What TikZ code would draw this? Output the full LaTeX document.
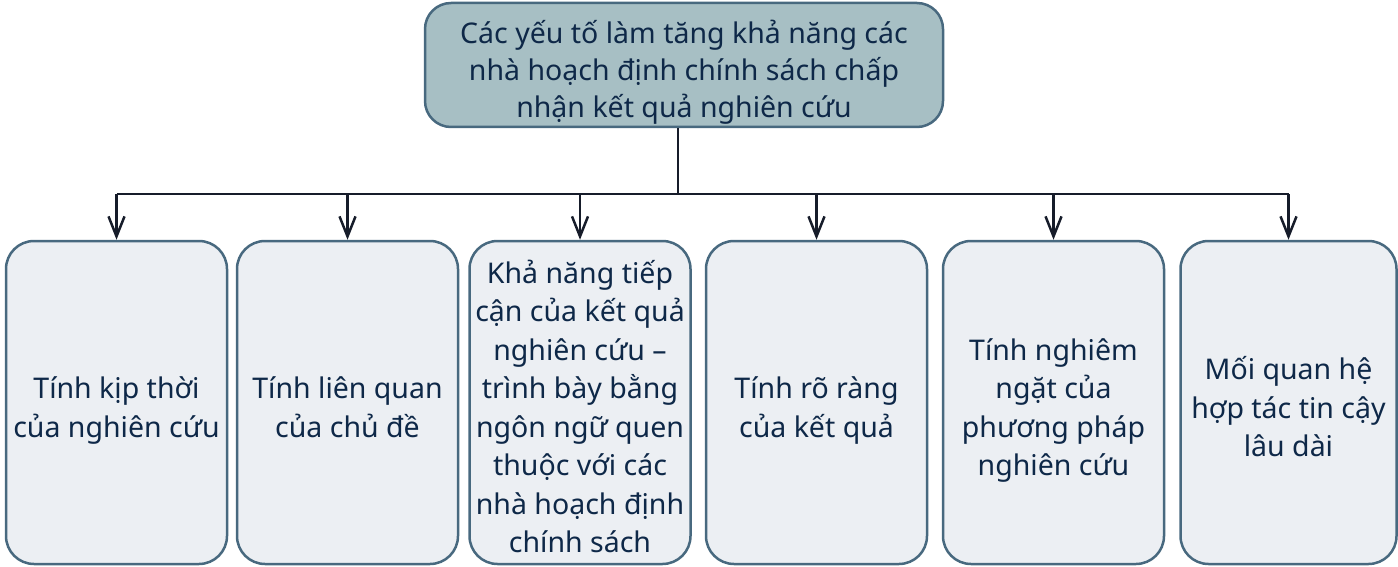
\documentclass[tikz,border=0pt]{standalone}
\usepackage{fontspec}
\setmainfont{Noto Sans}
\usetikzlibrary{arrows.meta}
\definecolor{boxline}{HTML}{48697F}
\definecolor{topfill}{HTML}{A7BFC4}
\definecolor{leaffill}{HTML}{ECEFF3}
\definecolor{ink}{HTML}{0E2848}
\definecolor{wire}{HTML}{161C2A}
% centred lines, set a little below the middle of their box
\newcommand\boxlines[1]{\raisebox{-8pt}[\height][\depth]{\begin{tabular}{@{}c@{}}#1\end{tabular}}}
\begin{document}
\begin{tikzpicture}[x=1pt,y=-1pt,
  box/.style={draw=boxline, line width=2.5pt, rounded corners=28pt, text=ink,
    inner sep=0pt, font=\fontsize{28.5}{38.5}\selectfont},
  headbox/.style={box, fill=topfill, minimum width=518pt, minimum height=124pt,
    rounded corners=26pt, font=\fontsize{28.5}{37}\selectfont},
  leafbox/.style={box, fill=leaffill, minimum width=221pt, minimum height=323pt},
  link/.style={draw=wire, line width=2.5pt},
  arrow/.style={link, -{Straight Barb[length=20pt,width=16pt,line width=2.5pt]}}]
\useasboundingbox (0,0) rectangle (1398,567);

\node[headbox] (top) at (684,65)
  {\boxlines{Các yếu tố làm tăng khả năng các\\nhà hoạch định chính sách chấp\\nhận kết quả nghiên cứu}};

\node[leafbox] (b1) at (116.5,402.5) {\boxlines{Tính kịp thời\\của nghiên cứu}};
\node[leafbox] (b2) at (347.5,402.5) {\boxlines{Tính liên quan\\của chủ đề}};
\node[leafbox] (b3) at (580,402.5)
  {\boxlines{Khả năng tiếp\\cận của kết quả\\nghiên cứu –\\trình bày bằng\\ngôn ngữ quen\\thuộc với các\\nhà hoạch định\\chính sách}};
\node[leafbox] (b4) at (816.5,402.5) {\boxlines{Tính rõ ràng\\của kết quả}};
\node[leafbox] (b5) at (1053.5,402.5) {\boxlines{Tính nghiêm\\ngặt của\\phương pháp\\nghiên cứu}};
\node[leafbox, minimum width=216pt] (b6) at (1288.5,402.5) {\boxlines{Mối quan hệ\\hợp tác tin cậy\\lâu dài}};

% trunk and distribution bar
\coordinate (hub) at (678,194);
\draw[link] (hub |- top.south) -- (hub);
\draw[link] (hub -| b1.north) -- (hub -| b6.north);

% branches into each leaf
\foreach \b in {b1,b2,b3,b4,b5,b6}
  \draw[arrow] (hub -| \b.north) -- (\b.north);
\end{tikzpicture}
\end{document}
